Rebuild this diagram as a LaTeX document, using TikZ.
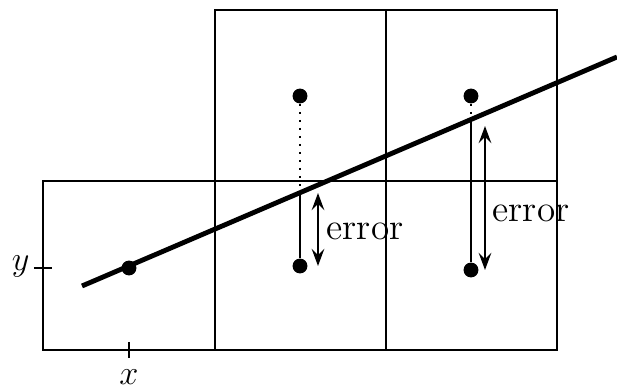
\documentclass[tikz,border=0pt]{standalone}
\usetikzlibrary{arrows.meta,calc}
\begin{document}
\begin{tikzpicture}[x=0.35pt,y=-0.35pt,
  cell/.style={draw,line width=0.8pt},
  fit/.style={line width=1.7pt},
  pt/.style={circle,fill,inner sep=0pt,minimum size=5.2pt},
  resid/.style={line width=0.8pt},
  gap/.style={line width=0.8pt,dash pattern=on 0.8pt off 2pt},
  err/.style={line width=0.9pt,{Stealth[length=6pt,width=4.4pt,inset=2.2pt]}-{Stealth[length=6pt,width=4.4pt,inset=2.2pt]}},
  lab/.style={font=\fontsize{13}{15}\selectfont},
  axlab/.style={font=\fontsize{13}{15}\selectfont}]
\useasboundingbox (0,0) rectangle (617,391);
% grid cells
\draw[cell] (43,181) rectangle (215,350);
\draw[cell] (215,181) rectangle (386,350);
\draw[cell] (386,181) rectangle (557,350);
\draw[cell] (215,10) rectangle (386,181);
\draw[cell] (386,10) rectangle (557,181);
% fitted line
\coordinate (L0) at (82,286);
\coordinate (L1) at (617,57);
\draw[fit] (L0) -- (L1);
% points
\node[pt] (p0) at (129,268) {};
\node[pt] (p1) at (300,96) {};
\node[pt] (p2) at (300,266) {};
\node[pt] (p3) at (471,96) {};
\node[pt] (p4) at (471,270) {};
% projections on line
\coordinate (f1) at (300,194);
\coordinate (f3) at (471,122);
\draw[gap] (p1) -- (f1);
\draw[resid] (f1) -- (p2);
\draw[gap] (p3) -- (f3);
\draw[resid] (f3) -- (p4);
% error arrows
\coordinate (e1a) at (318,193);
\coordinate (e1b) at (318,266);
\coordinate (e2a) at (485,126);
\coordinate (e2b) at (485,270);
\draw[err] (e1a) -- (e1b);
\draw[err] (e2a) -- (e2b);
\node[lab,anchor=west,inner sep=0pt] (t1) at (326,231) {error};
\node[lab,anchor=west,inner sep=0pt] (t2) at (492,213) {error};
% axis ticks
\coordinate (yt) at (43,268);
\draw[cell] ($(yt)+(-9,0)$) -- ($(yt)+(9,0)$);
\node[axlab,anchor=east,inner sep=1pt] (ylab) at (33,266) {$y$};
\coordinate (xt) at (129,350);
\draw[cell] ($(xt)+(0,-8)$) -- ($(xt)+(0,8)$);
\node[axlab,anchor=north,inner sep=1pt] (xlab) at (129,366) {$x$};
\end{tikzpicture}
\end{document}
